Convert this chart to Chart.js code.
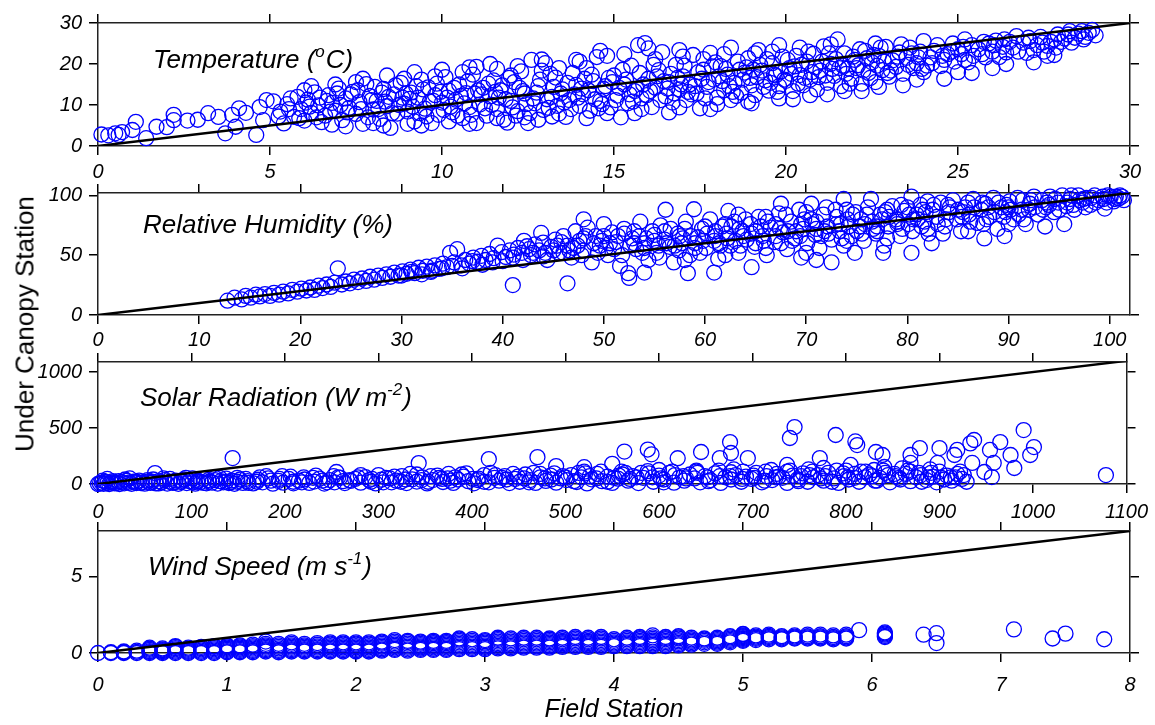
<!DOCTYPE html>
<html>
<head>
<meta charset="utf-8">
<script src="https://cdn.jsdelivr.net/npm/chart.js@4.4.1/dist/chart.umd.min.js"></script>
<style>
  html, body { margin: 0; padding: 0; background: #fff; }
  #wrap { position: relative; width: 1155px; height: 725px; overflow: hidden; }
  #wrap canvas { position: absolute; left: 0; }
  #ylab {
    position: absolute; left: 25px; top: 324px;
    transform: translate(-50%, -50%) rotate(-90deg);
    font: 26px 'Liberation Sans', Arial, sans-serif;
    white-space: nowrap; color: #000;
  }
</style>
</head>
<body>
<div id="wrap">
  <canvas id="tempChart" width="1155" height="190" style="top:0px"></canvas>
  <canvas id="rhChart" width="1155" height="190" style="top:170px"></canvas>
  <canvas id="solarChart" width="1155" height="190" style="top:339px"></canvas>
  <canvas id="windChart" width="1155" height="217" style="top:508px"></canvas>
  <div id="ylab">Under Canopy Station</div>
</div>
<script>
// Tick labels
const tempTicks = [0, 5, 10, 15, 20, 25, 30];
const tempYTicks = [0, 10, 20, 30];
const rhTicks = [0, 10, 20, 30, 40, 50, 60, 70, 80, 90, 100];
const rhYTicks = [0, 50, 100];
const solarTicks = [0, 100, 200, 300, 400, 500, 600, 700, 800, 900, 1000, 1100];
const solarYTicks = [0, 500, 1000];
const windTicks = [0, 1, 2, 3, 4, 5, 6, 7, 8];
const windYTicks = [0, 5];

// Temperature: [field, under canopy] (deg C)
const tempPoints = [
  [0.1,2.8],[0.3,2.6],[0.5,3.1],[0.6,2.7],[0.7,3.4],[1.0,3.9],[1.1,5.9],[1.4,1.9],[1.7,4.7],[2.0,4.6],
  [2.2,6.3],[2.2,7.6],[2.6,6.2],[2.9,6.4],[3.2,8.0],[3.5,7.1],[3.7,3.1],[3.9,7.6],[4.0,4.7],[4.1,9.2],
  [4.3,8.1],[4.6,2.7],[4.7,9.5],[4.8,6.3],[4.9,11.2],[5.1,10.9],
  [5.3,8.4],[5.4,5.5],[5.5,10.2],[5.7,7.1],[5.8,12.0],[5.9,9.0],[6.0,6.2],[6.1,11.3],[6.2,8.1],[6.3,13.1],
  [6.4,9.9],[6.5,5.8],[6.6,7.4],[6.7,12.4],[6.8,10.5],[6.9,8.6],[7.0,14.0],[7.1,6.3],[7.2,11.6],[7.3,9.3],
  [7.4,13.2],[7.5,7.8],[7.6,10.7],[7.7,5.4],[7.8,15.1],[7.9,12.2],[8.0,8.9],
  [8.1,11.0],[8.2,6.6],[8.3,13.9],[8.4,9.7],[8.5,4.4],[8.6,12.6],[8.7,7.9],[8.8,15.4],[8.9,10.3],[9.0,8.4],
  [9.1,13.0],[9.2,6.0],[9.3,11.8],[9.4,16.2],[9.5,9.1],[9.6,14.3],[9.7,5.6],[9.8,12.4],[9.9,7.6],[10.0,10.6],
  [10.1,16.8],[10.2,13.5],[10.3,8.2],[10.4,11.3],[10.5,15.0],[10.6,6.8],[10.7,12.9],[10.8,9.5],[10.9,17.4],[11.0,19.3],
  [11.1,10.1],[11.2,14.2],[11.3,7.4],[11.4,12.1],[11.5,16.0],[11.6,9.0],[11.7,13.6],[11.8,6.4],[11.9,5.7],[12.0,11.0],
  [12.1,15.6],[12.2,8.5],[12.3,18.2],[12.4,12.8],[12.5,5.6],[12.6,21.0],[12.7,10.4],[12.8,14.6],[12.9,21.1],[13.0,20.2],
  [13.1,9.3],[13.2,12.0],[13.3,16.7],[13.4,7.9],[13.5,13.8],[13.6,7.1],[13.7,11.2],[13.8,17.8],[13.9,14.9],[14.0,9.8],
  [14.1,12.6],[14.2,19.0],[14.3,8.6],[14.4,15.8],[14.5,21.7],[14.6,11.0],[14.7,13.9],[14.8,22.0],[14.9,9.4],[15.0,17.2],
  [15.1,12.3],[15.2,7.0],[15.3,15.0],[15.4,10.4],[15.5,19.6],[15.6,13.4],[15.7,24.6],[15.8,11.6],[15.9,25.1],[16.0,16.4],
  [16.1,9.5],[16.2,14.2],[16.3,18.5],[16.4,22.9],[16.5,12.1],[16.6,15.6],[16.7,10.6],[16.8,19.8],[16.9,13.8],[17.0,17.0],
  [17.1,11.2],[17.2,15.0],[17.3,22.2],[17.4,12.8],[17.5,9.2],[17.6,18.6],[17.7,14.4],[17.8,22.7],[17.9,16.2],[18.0,11.8],
  [18.1,19.5],[18.2,13.6],[18.3,17.4],[18.4,11.2],[18.5,15.4],[18.6,20.6],[18.7,13.0],[18.8,17.9],[18.9,21.4],[19.0,14.8],
  [19.1,12.4],[19.2,23.4],[19.3,18.4],[19.4,16.0],[19.5,13.5],[19.6,20.2],[19.7,17.2],[19.8,14.6],[19.9,21.8],
  [20.0,15.9],[20.1,19.0],[20.2,13.4],[20.3,22.0],[20.4,17.3],[20.5,14.8],[20.6,20.6],[20.7,16.2],[20.8,22.5],[20.9,13.8],
  [21.0,18.4],[21.1,24.3],[21.2,15.4],[21.3,20.0],[21.4,17.1],[21.5,26.0],[21.6,14.6],[21.7,22.6],[21.8,18.9],[21.9,16.4],
  [22.0,21.0],[22.1,19.7],[22.2,15.2],[22.3,23.2],[22.4,17.8],[22.5,20.4],[22.6,15.6],[22.7,22.0],[22.8,18.5],[22.9,24.2],
  [23.0,16.9],[23.1,20.9],[23.2,19.3],[23.3,22.8],[23.4,17.6],[23.5,21.5],[23.6,24.0],[23.7,19.0],[23.8,20.2],[23.9,23.0],
  [24.0,18.0],[24.2,21.6],[24.4,24.6],[24.5,19.5],[24.7,22.4],[24.9,20.6],[25.0,23.6],[25.2,21.0],[25.4,24.6],[25.4,17.8],
  [25.7,22.4],[25.9,25.0],[26.0,23.0],[26.1,25.7],[26.2,21.7],[26.3,24.2],[26.5,25.4],[26.7,26.8],[27.0,22.7],[27.1,25.6],
  [27.2,23.4],[27.4,26.6],[27.6,24.4],[27.8,22.2],[27.8,26.0],[28.0,25.4],[28.2,27.2],[28.4,26.4],[28.6,28.0],[28.8,27.6],
  [28.9,28.3],[29.0,27.0],
  [8.15,9.0],[8.45,12.0],[8.75,10.0],[9.05,11.5],[9.35,8.0],[9.65,10.8],[9.95,13.2],[10.25,9.6],[10.55,12.2],[10.85,7.6],
  [11.15,12.6],[11.45,10.0],[11.75,14.8],[12.05,9.4],[12.35,13.4],[12.65,11.6],[12.95,8.8],[13.25,14.4],[13.55,10.6],[13.85,12.6],
  [14.15,16.4],[14.45,11.4],[14.75,14.6],[15.05,11.2],[15.35,16.2],[15.65,14.0],[15.95,12.4],[16.25,17.0],[16.55,14.0],[16.85,16.6],
  [17.15,13.2],[17.45,18.0],[17.75,15.6],[18.05,17.0],[18.35,14.6],[18.65,18.6],[18.95,16.6],[19.25,19.8],[19.55,15.4],[19.85,18.2],
  [20.15,17.6],[20.45,19.8],[20.75,18.0],[21.05,20.6],[21.35,18.8],[21.65,19.6],[21.95,21.8],[22.25,18.4],[22.55,22.2],[22.85,20.6],
  [5.25,7.2],[5.55,9.0],[5.85,6.8],[6.15,9.6],[6.45,11.8],[6.75,8.4],[7.05,10.0],[7.35,12.6],[7.65,9.0],[7.95,11.2],
  [8.25,13.0],[8.55,8.0],[8.85,11.8],[9.15,9.6],[9.45,13.8],[9.75,11.0],[10.05,8.8],[10.35,14.2],[10.65,10.4],[10.95,12.8],
  [11.25,9.2],[11.55,13.2],[11.85,11.4],[12.15,7.4],[12.45,10.2],[12.75,13.0],[13.05,11.4],[13.35,9.8],[13.65,15.4],[13.95,11.8],
  [14.25,13.6],[14.55,9.2],[14.85,16.6],[15.15,14.2],[15.45,12.6],[15.75,17.8],[16.05,13.4],[16.35,11.2],[16.65,17.6],[16.95,15.0],
  [17.25,12.6],[17.55,16.4],[17.85,19.4],[18.15,15.8],[18.45,13.2],[18.75,16.2],[19.05,18.6],[19.35,14.4],[19.65,17.4],[19.95,16.2],
  [20.25,19.4],[20.55,16.6],[20.85,19.2],[21.15,17.2],[21.45,21.2],[21.75,17.6],[22.05,19.0],[22.35,21.4],[22.65,19.6],[22.95,17.8],
  [23.25,21.8],[23.55,19.8],[23.85,21.6],[24.1,19.6],[24.3,23.2],[24.6,21.0],[24.8,23.0],[25.1,22.4],[25.3,20.4],[25.6,23.6],
  [25.8,21.6],[26.4,22.8],[26.6,24.0],[26.9,25.2],[27.3,24.6],[27.5,23.0],[27.7,25.4],[27.9,27.2],[28.1,26.2],[28.3,25.2],
  [28.5,27.4],[28.7,26.6],
  [6.0,13.6],[7.5,15.6],[8.9,16.4],[9.8,17.0],[10.6,18.0],[11.6,18.8],[12.2,19.5],[13.4,19.0],[14.0,20.6],[16.2,21.2],
  [17.0,21.8],[18.2,22.4],[19.6,23.0],[20.4,24.0],[21.3,24.8],[22.6,25.0],[24.0,25.6],[25.2,26.0],
  [6.8,5.2],[8.0,5.6],[9.4,5.0],[10.2,6.0],[11.0,5.6],[12.8,6.4],[14.2,6.8],[15.6,8.0],[16.6,8.2],[17.8,9.0],
  [19.0,10.4],[20.2,11.4],[21.2,12.6],[22.2,13.4],[23.4,14.8],[24.6,16.4],[26.0,19.0],[27.2,20.4],
  [6.05,10.6],[6.35,7.0],[6.65,11.0],[6.95,12.8],[7.25,8.2],[7.55,13.6],[7.85,7.0],[8.05,14.4],[8.35,10.8],[8.65,14.8],
  [8.95,12.8],[9.25,14.6],[9.55,7.2],[9.85,15.2],[10.15,11.8],[10.45,7.4],[10.75,15.8],[11.05,13.6],[11.35,15.2],[11.65,11.8],
  [11.95,16.6],[12.25,14.2],[12.55,8.0],[12.85,16.2],[13.15,17.6],[13.45,12.8],[13.75,9.0],[14.05,14.0],[14.35,17.4],[14.65,10.2],
  [14.95,15.6],[15.25,18.6],[15.55,10.8],[15.85,15.0],[16.15,19.8],[16.45,15.8],[16.75,12.8],[17.05,19.6],[17.35,14.6],[17.65,11.6],
  [17.95,20.4],[18.25,18.8],[18.55,12.2],[18.85,19.2],[19.15,16.8],[19.45,21.2],[19.75,13.2],[20.05,21.0],[20.35,15.2],[20.65,23.0],
  [20.95,16.8],[21.25,22.6],[21.55,19.0],[21.85,15.2],[22.15,23.6],[22.45,16.6],[22.75,24.0],[23.05,18.4],[23.35,24.8],[23.65,22.6],
  [23.95,18.8],[24.25,20.2],[24.55,22.0],[24.85,25.0],[25.15,24.2],[25.45,22.0],[25.75,25.4],[26.05,24.6],[26.35,26.0],[26.75,23.0],
  [27.05,26.4],[27.45,25.2],[27.85,24.0],[28.25,28.0],[28.65,26.0],
  [5.6,11.6],[6.2,14.6],[6.9,15.0],[7.7,16.4],[8.4,17.2],[9.2,18.0],[10.0,18.6],[10.8,19.2],[11.4,20.0],[12.0,17.2],
  [12.9,18.4],[13.9,21.0],[14.6,23.2],[15.3,22.4],[16.0,23.8],[16.9,23.4],[17.6,21.2],[18.4,24.0],[19.1,22.6],[19.8,24.6],
  [7.2,4.8],[8.3,5.0],[9.0,5.4],[10.8,5.4],[11.6,6.8],[12.4,7.0],[13.2,7.2],[14.8,8.0],[15.8,9.0],[16.9,9.4],
  [18.0,10.2],[18.9,10.8],[19.8,11.6],[20.7,12.4],[21.7,13.4],[22.7,14.4],[23.8,16.2],[25.0,18.0],[26.4,20.0],[27.6,22.0]
];

// Relative humidity: [field, under canopy] (%)
const rhPoints = [
  [12.8,12],[13.5,14.5],[14.2,13],[14.6,16],[15.1,14.5],[15.6,17],[16.0,15.5],[16.5,17.5],[17.0,16],[17.4,18.5],
  [17.9,17],[18.3,19.5],[18.8,18],[19.2,21],[19.7,19.5],[20.1,22],[20.6,20.5],[21.0,23],[21.4,21],[21.8,24.5],
  [22.2,22.5],[22.6,25.5],[23.0,23.5],[23.4,27],[23.7,39],[24.1,25.5],[24.5,28],[24.9,26.5],[25.3,29.5],[25.7,27.5],
  [26.1,30.5],[26.5,28.5],[26.9,32],[27.3,29.5],[27.7,33],[28.1,31],[28.5,34],[28.9,32],[29.3,35.5],[29.7,33],
  [30.1,36.5],[30.5,34.5],[30.9,38],[31.3,35],[31.7,39.5],[32.1,37],[32.5,40.5],[32.9,36],[33.3,41.5],[33.7,38.5],
  [34.1,43],[34.5,40],[34.8,52],[35.2,44],[35.5,55],[35.9,41.5],[36.3,46],[36.7,43],[37.1,48],[37.5,44.5],
  [37.9,49.5],[38.3,46],[38.7,51],[39.1,47.5],[39.5,58],[39.9,52.5],[40.3,48.5],[40.7,54],[41.0,25],[41.1,50.5],
  [41.5,56],[41.9,52],[42.1,62],[42.4,57.5],[42.8,50],[43.2,59],[43.8,68.6],[43.6,54],[44.0,60.5],[44.4,46],
  [44.8,57],[45.2,63],[45.6,52],[46.0,66],[46.4,26.5],[46.4,58],[46.8,48],[47.2,70],[47.6,62],[48.0,80],
  [48.0,54],[48.4,73],[48.8,44],[49.2,66],[49.6,58],[50.0,76],[50.4,50],[50.8,69],[51.2,61],[51.6,41],
  [52.0,72],[52.4,35],[52.5,31],[52.8,64],[53.2,55],[53.6,78],[54.0,35.5],[54.0,60],[54.4,46],[54.8,70],
  [55.2,52],[55.6,75],[56.0,63],[56.1,88],[56.5,57],[56.9,44],[57.3,68],[57.7,60],[58.1,78],[58.3,35],
  [58.5,50],[58.9,88.4],[59.3,65],[59.7,72],[60.1,56],[60.5,80],[60.9,35.5],[60.9,62],[61.3,47],[61.7,74],
  [62.1,68],[62.3,87],[62.5,58],[62.9,78],[63.3,84],[63.3,52],[63.7,70],[64.1,63],[64.6,40],[64.5,76],
  [64.9,57],[65.3,82],[65.7,66],[66.1,50],[66.5,73],[66.9,61],[67.3,85],[67.5,93],[67.7,69],[68.1,55],
  [68.5,78],[68.9,64],[69.3,88],[69.5,48],[69.7,72],[70.1,60],[70.5,93],[70.5,80],[70.9,67],[71.0,46],
  [71.3,56],[71.7,84],[72.1,74],[72.5,44],[72.5,63],[72.9,88],[73.3,70],[73.7,97],[73.7,58],[74.1,80],
  [74.5,66],[74.8,52],[74.9,86],[75.3,74],[75.7,62],[76.1,90],[76.4,97],[76.5,78],[76.9,68],[77.3,84],
  [77.6,52],[77.7,58],[78.1,74],[78.5,91],[78.9,80],[79.3,66],[79.7,87],[80.1,76],[80.4,99],[80.4,52],
  [80.5,70],[80.9,84],[81.3,92],[81.7,78],[82.1,68],[82.4,60],[82.5,88],[82.9,82],[83.3,94],[83.7,74],
  [84.1,86],[84.5,96],[84.9,80],[85.3,70],[85.7,90],[86.1,84],[86.5,97],[86.9,77],[87.3,88],[87.6,64],
  [87.7,93],[88.1,82],[88.5,98],[88.9,72],[89.3,90],[89.6,66],[89.7,86],[90.1,95],[90.5,80],[90.9,98],
  [91.3,88],[91.7,76],[92.1,93],[92.5,99],[92.9,84],[93.3,96],[93.6,74],[93.7,90],[94.1,99],[94.5,86],
  [94.9,94],[95.3,100],[95.5,76],[95.7,91],[96.1,97],[96.5,88],[96.9,100],[97.3,94],[97.7,98],[98.1,92],
  [98.5,100],[98.9,96],[99.3,99],[99.5,89],[99.7,94],[100.1,99],[100.5,97],[100.9,97.5],[101.2,99],[101.4,96],
  [42.6,55],[45.0,54],[47.4,58],[49.8,62],[51.0,55],[53.0,60],[55.0,62],[57.0,58],[59.0,60],[61.0,66],
  [63.0,62],[65.0,70],[67.0,66],[69.0,70],[71.0,72],[73.0,76],[75.0,70],[77.0,74],[79.0,78],[81.0,80],
  [44.2,52],[45.4,58],[46.6,54],[47.8,50],[49.0,60],[50.2,56],[51.4,66],[52.6,58],[53.8,52],[55.0,67],
  [56.2,60],[57.4,54],[58.6,66],[59.8,62],[61.0,70],[62.2,64],[63.4,72],[64.6,68],[65.8,62],[67.0,76],
  [68.2,70],[69.4,66],[70.6,76],[71.8,70],[73.0,82],[74.2,74],[75.4,80],[76.6,72],[77.8,86],[79.0,76],
  [80.2,84],[81.4,74],[82.6,92],[83.8,80],[85.0,88],[86.2,78],[87.4,94],[88.6,86],[89.8,92],[91.0,84],
  [92.2,96],[93.4,88],[94.6,97],[95.8,94],[97.0,96],[98.2,98],[99.4,97],[100.6,99],[96.4,92],[97.6,90],
  [36.0,39],[38.0,42],[40.0,45],[42.0,46],[44.0,49],[46.0,52],[48.0,64],[50.0,66],[52.0,68],[54.0,56],
  [56.0,70],[58.0,72],[60.0,74],[62.0,76],[64.0,80],[66.0,82],[68.0,84],[70.0,86],[72.0,90],[74.0,88],
  [76.0,84],[78.0,88],[80.0,90],[82.0,95],[84.0,92],[86.0,94],[88.0,90],[90.0,90],[92.0,88],[94.0,92],
  [55.5,48],[59.5,52],[63.5,58],[67.5,60],[71.5,66],[75.5,68],[79.5,72],[83.5,68],[87.5,76],[91.5,80],
  [30.0,33],[31.0,36],[32.0,34],[33.0,37],[34.0,39],[35.0,41],[37.0,45],[39.0,44],[41.0,48],[43.0,52],
  [45.8,61],[47.0,56],[48.2,66],[49.4,52],[50.6,60],[51.8,50],[53.0,70],[54.2,64],[55.4,58],[56.6,72],
  [57.8,64],[59.0,56],[60.2,68],[61.4,60],[62.6,74],[63.8,66],[65.0,60],[66.2,78],[67.4,72],[68.6,62],
  [69.8,80],[71.0,78],[72.2,68],[73.4,76],[74.6,84],[75.8,76],[77.0,70],[78.2,82],[79.4,92],[80.6,80],
  [81.8,86],[83.0,76],[84.2,90],[85.4,82],[86.6,90],[87.8,80],[89.0,94],[90.2,88],[91.4,96],[92.6,90],
  [93.8,94],[95.0,88],[96.2,100],[97.4,97],[98.6,94],[99.8,100],[100.4,95],[101.0,100],
  [58.0,46],[62.0,50],[66.0,56],[70.0,52],[74.0,62],[78.0,64],[82.0,72],[86.0,70],[90.0,76],
  [53.5,66],[57.5,66],[61.5,58],[65.5,74],[69.5,76],[73.5,64],[77.5,80],[81.5,88],[85.5,86],[89.5,82]
];

// Solar radiation: [field, under canopy] (W m-2)
const solarPoints = [
  [0,0],[2,5],[4,12],[6,2],[8,20],[10,8],[12,0],[14,15],[16,25],[18,5],[20,10],[23,0],[25,18],[28,6],[30,28],
  [33,12],[36,2],[38,20],[41,8],[44,30],[47,15],[50,3],[53,22],[56,10],[59,40],[61,98],[62,5],[65,25],[68,14],[71,35],
  [74,4],[77,20],[80,10],[83,30],[86,2],[89,18],[92,40],[95,8],[98,25],[101,14],[104,3],[107,30],[110,18],[113,45],
  [116,6],[119,22],[122,12],[125,35],[128,4],[131,25],[134,15],[137,48],[140,8],[143,30],[144,232],[146,2],[149,20],
  [152,40],[155,10],
  [160,25],[166,5],[171,38],[176,15],[182,50],[187,3],[193,28],[198,12],[204,45],[209,6],[215,30],[220,60],[226,10],
  [231,22],[237,48],[242,4],[248,35],[253,15],[255,107],[259,55],[264,8],[270,28],[275,45],[281,12],[286,62],[292,20],
  [297,5],[303,38],[308,55],[314,15],[319,30],[325,70],[330,8],[336,42],[341,22],[343,187],[347,60],[352,5],[358,35],
  [363,75],[369,18],[374,50],[375,90],[380,10],[385,40],[391,65],[396,25],[402,6],[407,48],[413,80],[418,223],[418,15],
  [424,55],[429,30],[435,70],[440,8],[446,45],[451,20],[457,85],[462,35],[468,10],[470,240],[473,60],[479,28],[484,75],
  [490,160],[490,12],[495,50],
  [501,35],[506,80],[512,18],[517,60],[520,150],[523,5],[528,42],[534,90],[539,25],[545,65],[550,180],[550,10],[556,48],
  [561,85],[563,290],[567,30],[572,70],[578,8],[583,55],[588,308],[589,95],[592,265],[594,20],[600,75],[605,40],[611,100],
  [616,12],[620,230],[622,60],[627,30],[633,85],[638,50],[644,15],[645,286],[649,70],[655,35],[660,95],[665,232],[666,10],
  [671,60],[676,375],[677,277],[677,40],[682,80],[688,20],[693,65],[695,232],[699,45],[704,100],[710,15],[715,70],[721,35],
  [726,90],[732,55],[737,170],[737,10],[740,411],[743,75],[745,509],[748,40],[754,95],[759,20],[765,60],[770,80],[772,232],
  [776,143],[776,30],[781,100],[787,50],[789,438],[792,10],[798,70],[803,40],[805,170],[809,90],[810,380],[812,348],[814,20],
  [820,60],[825,85],[831,30],[832,286],[836,55],[839,259],[841,152],[842,100],[847,15],[853,70],[858,40],[864,90],[869,188],
  [869,259],[869,25],[875,60],[879,321],[880,80],[886,35],[891,100],[897,15],[898,188],[900,321],[902,55],[908,75],[913,30],
  [916,259],[919,304],[919,90],[924,45],[926,80],[933,363],[935,188],[937,393],[948,107],[954,304],[956,62],[958,188],
  [965,375],[976,259],[980,143],[990,482],[997,259],[1001,330],[1078,80],
  [5,30],[17,15],[29,40],[41,20],[53,35],[65,5],[77,45],[89,30],[101,50],[113,10],[125,55],[137,20],[149,55],[161,10],
  [173,60],[185,30],[197,70],[209,20],[221,40],[233,75],[245,15],[257,60],[269,35],[281,80],[293,45],[305,15],[317,65],
  [329,40],[341,85],[353,20],[365,55],[377,30],[389,85],[401,45],[413,20],[425,80],[437,40],[449,65],[461,15],[473,90],
  [485,40],[497,70],[509,25],[521,95],[533,50],[545,20],[557,75],[569,45],[581,100],[593,60],[605,15],[617,80],[629,50],
  [641,100],[653,25],[665,70],[677,105],[689,45],[701,75],[713,30],[725,60],[737,110],[749,25],[761,80],[773,50],[785,20],
  [797,95],[809,55],[821,110],[833,30],[845,80],[857,55],[869,110],[881,20],[893,65],[905,40],[917,60],[929,20],
  [890,130],[860,140],[830,125],[800,120],[760,130],[720,125],[680,130],[640,120],[600,125],[560,110],[520,110],
  [10,45],[22,25],[34,50],[46,8],[58,20],[70,50],[82,15],[94,55],[106,20],[118,35],[130,55],[142,15],[158,45],[170,20],
  [180,70],[194,45],[206,65],[218,15],[230,55],[240,30],[252,70],[262,25],[278,60],[290,35],[300,80],[312,50],[324,20],
  [334,90],[346,35],[356,70],[368,45],[382,60],[394,95],[406,35],[420,100],[432,55],[444,90],[456,50],[466,100],[478,50],
  [488,95],[500,60],[514,100],[526,70],[538,110],[552,55],[564,100],[576,60],[588,115],[602,50],[614,110],[626,70],
  [640,110],[652,60],[664,120],[676,70],[690,110],[702,55],[714,110],[728,65],[740,120],[752,70],[764,110],[778,70],
  [790,120],[802,60],[816,110],[828,70],[840,120],[852,90],[866,120],[878,100],[888,60],[900,110],[912,60],[922,110]
];

// Wind speed: [field, [under canopy values]] (m s-1), readings stack in columns
const windCols = [
  [0.0,[0]],[0.1,[0,0.05]],[0.2,[0,0.05,0.1]],[0.3,[0,0.08,0.15]],
  [0.4,[0,0.06,0.12,0.2,0.28,0.35]],[0.5,[0,0.06,0.12,0.18,0.24,0.3]],
  [0.6,[0,0.08,0.16,0.24,0.32,0.4,0.45]],[0.7,[0,0.07,0.14,0.21,0.28,0.35]],
  [0.8,[0,0.08,0.16,0.24,0.32,0.4]],[0.9,[0,0.08,0.16,0.24,0.32,0.4,0.45]],
  [1.0,[0.05,0.12,0.2,0.28,0.36,0.44,0.5]],[1.1,[0.05,0.12,0.2,0.28,0.36,0.44,0.5]],
  [1.2,[0.05,0.13,0.21,0.29,0.37,0.45,0.55]],[1.3,[0.1,0.18,0.26,0.34,0.42,0.5,0.6,0.75]],
  [1.4,[0.05,0.13,0.21,0.3,0.4,0.5,0.6]],[1.5,[0.1,0.18,0.26,0.34,0.42,0.5,0.6,0.7]],
  [1.6,[0.1,0.18,0.26,0.34,0.42,0.5,0.6]],[1.7,[0.1,0.18,0.26,0.35,0.44,0.54,0.65]],
  [1.8,[0.1,0.18,0.27,0.36,0.45,0.55,0.62,0.7]],[1.9,[0.1,0.18,0.27,0.36,0.45,0.55,0.62,0.7]],
  [2.0,[0.1,0.18,0.27,0.36,0.45,0.55,0.62,0.7]],[2.1,[0.1,0.18,0.27,0.36,0.45,0.55,0.62,0.7]],
  [2.2,[0.15,0.23,0.32,0.41,0.5,0.6,0.68,0.75]],[2.3,[0.2,0.28,0.37,0.46,0.55,0.65,0.75,0.85]],
  [2.4,[0.15,0.24,0.33,0.42,0.52,0.62,0.72,0.8]],[2.5,[0.2,0.28,0.36,0.44,0.52,0.6,0.68,0.75]],
  [2.6,[0.2,0.28,0.37,0.46,0.55,0.64,0.72,0.8]],[2.7,[0.2,0.28,0.37,0.46,0.55,0.64,0.72,0.8]],
  [2.8,[0.25,0.33,0.42,0.51,0.6,0.7,0.8,0.88,0.95]],[2.9,[0.25,0.33,0.42,0.51,0.6,0.7,0.8,0.9]],
  [3.0,[0.25,0.33,0.41,0.5,0.6,0.68,0.77,0.85]],[3.1,[0.3,0.38,0.47,0.56,0.65,0.75,0.85,0.93,1.0]],
  [3.2,[0.3,0.38,0.47,0.56,0.65,0.75,0.85,0.95]],[3.3,[0.35,0.43,0.52,0.61,0.7,0.8,0.9,1.0]],
  [3.4,[0.35,0.43,0.52,0.61,0.7,0.8,0.9,1.0]],[3.5,[0.35,0.43,0.51,0.6,0.69,0.78,0.87,0.95]],
  [3.6,[0.4,0.48,0.56,0.64,0.72,0.8,0.9,1.0]],[3.7,[0.4,0.48,0.57,0.66,0.75,0.85,0.95,1.05]],
  [3.8,[0.4,0.48,0.56,0.64,0.72,0.8,0.9,1.0]],[3.9,[0.4,0.48,0.57,0.66,0.75,0.85,0.95,1.05]],
  [4.0,[0.45,0.53,0.61,0.7,0.8,0.9]],[4.1,[0.45,0.53,0.61,0.7,0.8,0.9,1.0]],
  [4.2,[0.45,0.53,0.62,0.71,0.8,0.9,0.98,1.05]],[4.3,[0.45,0.54,0.63,0.72,0.82,0.92,1.02,1.15]],
  [4.4,[0.45,0.53,0.62,0.71,0.8,0.9,0.98,1.05]],[4.5,[0.5,0.58,0.67,0.76,0.85,0.95,1.03,1.1]],
  [4.6,[0.55,0.63,0.72,0.81,0.9,1.0]],[4.7,[0.6,0.7,0.8,0.88,0.95]],
  [4.8,[0.6,0.68,0.76,0.84,0.92,1.0]],[4.9,[0.7,0.78,0.86,0.94,1.02,1.1]],
  [5.0,[0.8,0.86,0.92,0.98,1.04,1.1,1.16,1.22,1.25]],[5.1,[0.85,0.93,1.0,1.08,1.15]],
  [5.2,[0.9,0.98,1.05,1.12,1.2]],[5.3,[0.9,0.96,1.03,1.1]],[5.4,[0.95,1.01,1.08,1.15]],
  [5.5,[0.95,1.02,1.1,1.2]],[5.6,[0.95,1.02,1.1,1.2]],[5.7,[0.9,0.97,1.05,1.15]],
  [5.8,[0.95,1.02,1.1,1.2]],[5.9,[1.5]],[6.1,[1.05,1.12,1.2,1.28,1.35]],[6.4,[1.2]],
  [6.5,[0.65,1.3]],[7.1,[1.55]],[7.4,[0.95]],[7.5,[1.27]],[7.8,[0.9]]
];

const FONT = "'Liberation Sans', Arial, sans-serif";
const BLUE = '#0000ff';

const toXY = pairs => pairs.map(p => ({ x: p[0], y: p[1] }));
const windPoints = [];
windCols.forEach(c => c[1].forEach(v => windPoints.push([c[0], v])));

// Draws the italic panel label, with superscript pieces
const panelTitle = {
  id: 'panelTitle',
  afterDraw(chart, args, opts) {
    const ctx = chart.ctx;
    let x = opts.x;
    ctx.save();
    ctx.fillStyle = '#000';
    ctx.textBaseline = 'alphabetic';
    opts.parts.forEach(p => {
      ctx.font = 'italic ' + (p.sup ? 17 : 26) + 'px ' + FONT;
      ctx.fillText(p.t, x, opts.y - (p.sup ? 11 : 0));
      x += ctx.measureText(p.t).width + (p.sup ? 1 : 0);
    });
    ctx.restore();
  }
};

function xAxis(o, pos) {
  const bottom = pos === 'bottom';
  return {
    type: 'linear', axis: 'x', position: pos, min: 0, max: o.xMax,
    afterBuildTicks: s => { s.ticks = o.xTicks.map(v => ({ value: v })); },
    afterFit: s => { s.height = bottom ? o.bottomH : 23; },
    grid: { drawOnChartArea: false, drawTicks: true, tickLength: 9, color: '#000', lineWidth: 1.5 },
    border: { display: true, color: '#222', width: 1.5 },
    ticks: {
      display: bottom, autoSkip: false, maxRotation: 0, padding: o.labelPad, color: '#000',
      font: { family: FONT, size: 20, style: 'italic' },
      callback: v => String(v)
    },
    title: bottom && o.xTitle ? {
      display: true, text: o.xTitle, color: '#000', padding: { top: 0, bottom: 0 },
      font: { family: FONT, size: 25, style: 'italic' }
    } : { display: false }
  };
}

function yAxis(o, pos) {
  const left = pos === 'left';
  return {
    type: 'linear', axis: 'y', position: pos, min: 0, max: o.yMax,
    afterBuildTicks: s => { s.ticks = o.yTicks.map(v => ({ value: v })); },
    afterFit: s => { s.width = left ? 98 : 25; },
    grid: { drawOnChartArea: false, drawTicks: true, tickLength: 9, color: '#000', lineWidth: 1.5 },
    border: { display: true, color: '#222', width: 1.5 },
    ticks: {
      display: left, autoSkip: false, padding: 7, color: '#000',
      font: { family: FONT, size: 20, style: 'italic' },
      callback: v => String(v)
    }
  };
}

function makePanel(id, o) {
  return new Chart(document.getElementById(id), {
    type: 'scatter',
    data: {
      datasets: [
        {
          // 1:1 line
          data: [{ x: 0, y: 0 }, { x: o.xMax, y: o.xMax }],
          showLine: true, borderColor: '#000', borderWidth: 2.5, pointRadius: 0
        },
        {
          data: toXY(o.points),
          pointRadius: 7.5, pointBorderWidth: 1.3,
          pointBorderColor: BLUE, pointBackgroundColor: 'rgba(0,0,0,0)',
          clip: false
        }
      ]
    },
    options: {
      responsive: false, animation: false, devicePixelRatio: 1, events: [],
      layout: { padding: 0 },
      plugins: {
        legend: { display: false }, tooltip: { enabled: false },
        panelTitle: { x: o.titleX, y: o.titleY, parts: o.title }
      },
      scales: {
        x: xAxis(o, 'bottom'), x2: xAxis(o, 'top'),
        y: yAxis(o, 'left'), y2: yAxis(o, 'right')
      }
    },
    plugins: [panelTitle]
  });
}

makePanel('tempChart', {
  points: tempPoints, xMax: 30, yMax: 30, xTicks: tempTicks, yTicks: tempYTicks,
  bottomH: 44, labelPad: 5,
  titleX: 153, titleY: 68, title: [{ t: 'Temperature (' }, { t: 'o', sup: true }, { t: 'C)' }]
});
makePanel('rhChart', {
  points: rhPoints, xMax: 102, yMax: 102, xTicks: rhTicks, yTicks: rhYTicks,
  bottomH: 45, labelPad: 4,
  titleX: 143, titleY: 63, title: [{ t: 'Relative Humidity (%)' }]
});
makePanel('solarChart', {
  points: solarPoints, xMax: 1100, yMax: 1090, xTicks: solarTicks, yTicks: solarYTicks,
  bottomH: 45, labelPad: 7,
  titleX: 140, titleY: 67, title: [{ t: 'Solar Radiation (W m' }, { t: '-2', sup: true }, { t: ')' }]
});
makePanel('windChart', {
  points: windPoints, xMax: 8, yMax: 8, xTicks: windTicks, yTicks: windYTicks,
  bottomH: 72, labelPad: 11, xTitle: 'Field Station',
  titleX: 148, titleY: 67, title: [{ t: 'Wind Speed (m s' }, { t: '-1', sup: true }, { t: ')' }]
});
</script>
</body>
</html>
